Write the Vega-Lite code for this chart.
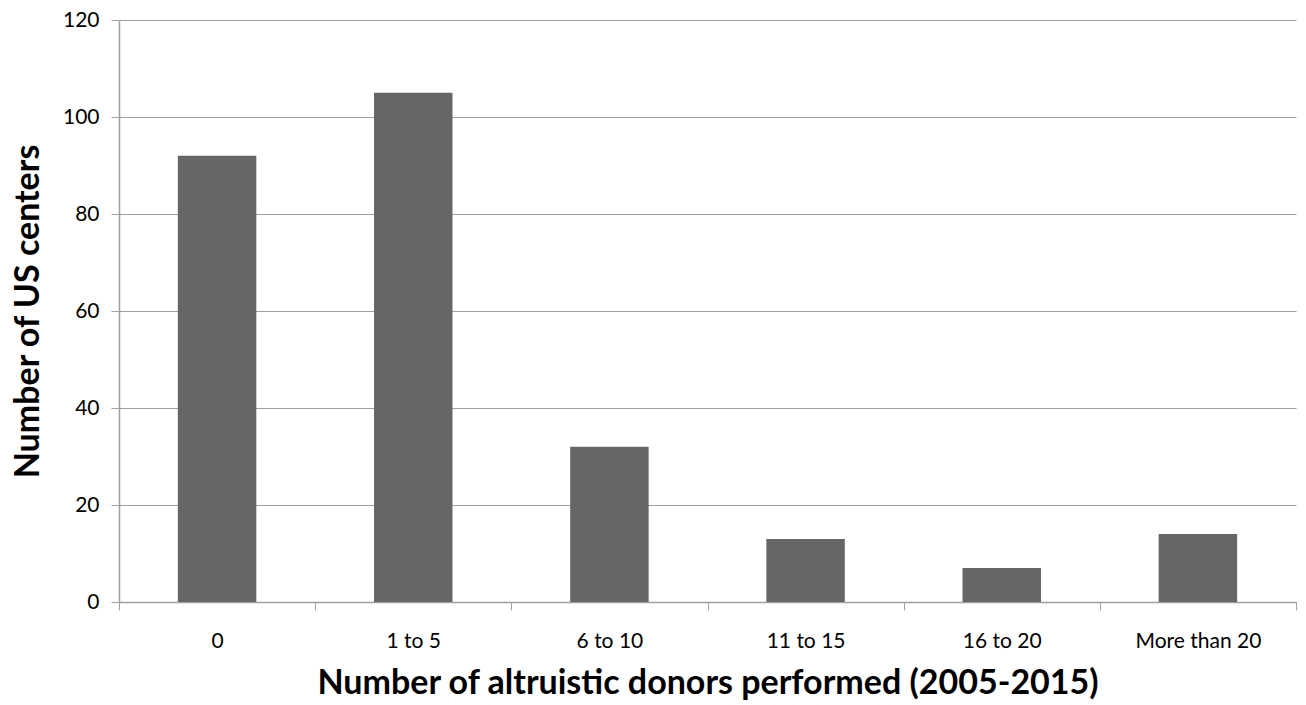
{
  "$schema": "https://vega.github.io/schema/vega-lite/v6.json",
  "width": 1177,
  "height": 582,
  "autosize": {"type": "none"},
  "padding": {"left": 119, "top": 20, "right": 10, "bottom": 103},
  "background": "white",
  "config": {
    "view": {"stroke": null},
    "font": "Lato",
    "axis": {"labelFont": "Lato", "titleFont": "Lato"}
  },
  "data": {
    "values": [
      {"category": "0", "centers": 92},
      {"category": "1 to 5", "centers": 105},
      {"category": "6 to 10", "centers": 32},
      {"category": "11 to 15", "centers": 13},
      {"category": "16 to 20", "centers": 7},
      {"category": "More than 20", "centers": 14}
    ]
  },
  "encoding": {
    "y": {
      "field": "centers",
      "type": "quantitative",
      "scale": {"domain": [0, 120], "nice": false},
      "axis": {
        "title": "Number of US centers",
        "titleFontSize": 34,
        "titleFontWeight": "bold",
        "titleColor": "#000000",
        "titlePadding": 17,
        "values": [0, 20, 40, 60, 80, 100, 120],
        "labelFontSize": 21,
        "labelColor": "#000000",
        "labelPadding": 12,
        "tickSize": 8,
        "tickColor": "#a0a0a0",
        "domainColor": "#a0a0a0",
        "domainWidth": 1.5,
        "grid": true,
        "gridColor": "#a0a0a0",
        "gridWidth": 1.2
      }
    }
  },
  "layer": [
    {
      "mark": {"type": "bar", "color": "#666666"},
      "encoding": {
        "x": {
          "field": "category",
          "type": "nominal",
          "sort": null,
          "scale": {"paddingInner": 0.6, "paddingOuter": 0.3},
          "axis": null
        }
      }
    },
    {
      "mark": {"type": "bar", "opacity": 0},
      "encoding": {
        "x": {
          "field": "category",
          "type": "nominal",
          "sort": null,
          "scale": {"paddingInner": 0, "paddingOuter": 0},
          "axis": {
            "title": "Number of altruistic donors performed (2005-2015)",
            "titleFontSize": 34,
            "titleFontWeight": "bold",
            "titleColor": "#000000",
            "titlePadding": 15,
            "labelAngle": 0,
            "labelFontSize": 21,
            "labelColor": "#000000",
            "labelPadding": 20,
            "tickBand": "extent",
            "tickSize": 8,
            "tickColor": "#a0a0a0",
            "domainColor": "#a0a0a0",
            "domainWidth": 1.5,
            "grid": false
          }
        }
      }
    }
  ],
  "resolve": {"scale": {"x": "independent"}}
}
